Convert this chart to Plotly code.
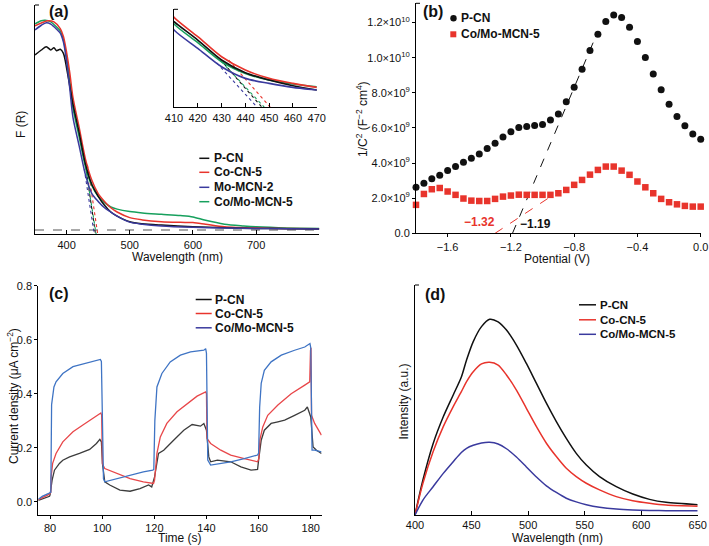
import plotly.graph_objects as go

W, H = 709, 546
FONT = "Liberation Sans, Arial, sans-serif"

# ---------------- (a) Kubelka-Munk F(R) ----------------
pcn_nm = [350, 360, 368, 375, 380, 384, 390, 395, 400, 405, 410, 420, 430, 440, 450, 460, 470, 480, 500, 520, 550, 600, 650, 700, 750, 800]
pcn_F = [0.778, 0.80, 0.815, 0.800, 0.81, 0.797, 0.803, 0.785, 0.72, 0.64, 0.56, 0.431, 0.291, 0.202, 0.150, 0.110, 0.080, 0.062, 0.037, 0.028, 0.022, 0.015, 0.010, 0.007, 0.006, 0.005]
co_nm = [350, 360, 370, 380, 390, 395, 400, 405, 410, 420, 430, 440, 450, 460, 470, 480, 500, 520, 550, 580, 600, 620, 650, 700, 750, 800]
co_F = [0.907, 0.92, 0.93, 0.925, 0.895, 0.86, 0.79, 0.70, 0.591, 0.455, 0.314, 0.221, 0.162, 0.127, 0.099, 0.080, 0.055, 0.045, 0.037, 0.034, 0.033, 0.026, 0.015, 0.009, 0.007, 0.006]
mo_nm = [350, 360, 368, 375, 385, 390, 395, 400, 405, 410, 420, 430, 440, 450, 460, 470, 480, 500, 520, 550, 600, 650, 700, 750, 800]
mo_F = [0.889, 0.91, 0.921, 0.915, 0.89, 0.875, 0.835, 0.75, 0.63, 0.502, 0.373, 0.244, 0.162, 0.127, 0.099, 0.080, 0.062, 0.035, 0.026, 0.018, 0.012, 0.009, 0.007, 0.006, 0.005]
como_nm = [350, 360, 366, 375, 385, 390, 395, 400, 405, 410, 420, 430, 440, 450, 460, 470, 480, 500, 520, 550, 580, 600, 620, 650, 680, 700, 750, 800]
como_F = [0.916, 0.93, 0.932, 0.925, 0.90, 0.885, 0.845, 0.77, 0.67, 0.544, 0.413, 0.279, 0.197, 0.150, 0.122, 0.103, 0.093, 0.082, 0.076, 0.070, 0.064, 0.058, 0.043, 0.026, 0.018, 0.014, 0.009, 0.007]
# tangent (band-edge) lines
tan_pcn_x, tan_pcn_y = [431, 447], [0.265, -0.041]
tan_co_x, tan_co_y = [433, 450.5], [0.29, -0.041]
tan_mo_x, tan_mo_y = [428, 445], [0.27, -0.041]
tan_como_x, tan_como_y = [430, 448], [0.279, -0.041]
base_x, base_y = [350, 800], [0, 0]

# ---------------- (b) Mott-Schottky ----------------
pot = [-1.80, -1.75, -1.70, -1.65, -1.60, -1.55, -1.50, -1.45, -1.40, -1.35, -1.30, -1.25, -1.20,
       -1.15, -1.10, -1.05, -1.00, -0.95, -0.90, -0.85, -0.80, -0.75, -0.70, -0.65, -0.60, -0.55,
       -0.50, -0.45, -0.40, -0.35, -0.30, -0.25, -0.20, -0.15, -0.10, -0.05, 0.00]
ms_pcn = [2.62e9, 2.85e9, 3.10e9, 3.31e9, 3.57e9, 3.80e9, 4.05e9, 4.28e9, 4.52e9, 4.83e9, 5.13e9, 5.49e9, 5.78e9,
          6.02e9, 6.08e9, 6.14e9, 6.19e9, 6.46e9, 6.80e9, 7.49e9, 8.32e9, 9.35e9, 10.41e9, 11.34e9, 12.07e9, 12.43e9,
          12.29e9, 11.74e9, 10.93e9, 10.01e9, 9.08e9, 8.17e9, 7.35e9, 6.65e9, 6.12e9, 5.66e9, 5.36e9]
ms_como = [1.62e9, 2.24e9, 2.51e9, 2.58e9, 2.38e9, 2.19e9, 1.98e9, 1.86e9, 1.84e9, 1.84e9, 1.96e9, 2.09e9, 2.15e9,
           2.20e9, 2.19e9, 2.19e9, 2.19e9, 2.19e9, 2.28e9, 2.47e9, 2.76e9, 3.04e9, 3.34e9, 3.61e9, 3.80e9, 3.80e9,
           3.57e9, 3.33e9, 2.95e9, 2.62e9, 2.28e9, 1.96e9, 1.77e9, 1.65e9, 1.56e9, 1.52e9, 1.52e9]
fit_pcn_x, fit_pcn_y = [-1.19, -0.65], [0, 11.5e9]
fit_como_x, fit_como_y = [-1.30, -0.93], [0, 2.2e9]
ms_yticks = [0, 2e9, 4e9, 6e9, 8e9, 1e10, 1.2e10]
ms_yticktext = ["0.0", "2.0×10<sup>9</sup>", "4.0×10<sup>9</sup>", "6.0×10<sup>9</sup>",
                "8.0×10<sup>9</sup>", "1.0×10<sup>10</sup>", "1.2×10<sup>10</sup>"]
ms_xticks = [-1.6, -1.2, -0.8, -0.4, 0.0]
ms_xticktext = ["−1.6", "−1.2", "−0.8", "−0.4", "0.0"]

# ---------------- (c) photocurrent ----------------
pc_t_pcn = [75.5, 79.8, 80.0, 80.8, 81.7, 83.6, 84.9, 87.5, 91.3, 95.2, 97.8, 99.1, 99.7, 100.1, 101, 102.9, 106.8,
            110.7, 114.5, 117.8, 119, 120.1, 121.6, 123.6, 127.4, 131.3, 134.5, 137.7, 139, 140, 140.5, 140.9, 141.6,
            144.2, 149.3, 153.2, 157.1, 159.6, 160, 161, 162.2, 164.8, 167.4, 170, 173.8, 177.7, 178.7, 180, 180.9,
            182.2, 184.1]
pc_pcn = [0.005, 0.02, 0.025, 0.08, 0.117, 0.142, 0.154, 0.166, 0.179, 0.194, 0.216, 0.231, 0.222, 0.142, 0.074, 0.062,
          0.043, 0.039, 0.049, 0.062, 0.055, 0.092, 0.179, 0.191, 0.228, 0.265, 0.286, 0.28, 0.29, 0.265, 0.21, 0.166,
          0.148, 0.154, 0.148, 0.129, 0.117, 0.12, 0.154, 0.228, 0.265, 0.29, 0.296, 0.302, 0.32, 0.339, 0.351, 0.314,
          0.203, 0.191, 0.179]
pc_t_co = [75.5, 79.8, 80.3, 80.4, 81, 82.3, 84.9, 88.8, 92.6, 96.5, 99.5, 99.8, 100.1, 101, 105.5, 110.7, 115.8, 119.7,
           120.1, 121, 122.3, 124.8, 128.7, 132.6, 136.4, 139.7, 140.0, 140.2, 141.6, 145.5, 149.3, 154.5, 159.6, 160.1,
           160.5, 161.6, 163.5, 167.4, 172.5, 177.7, 179.6, 179.9, 180.1, 180.3, 181.5, 184.1]
pc_co = [0.008, 0.028, 0.035, 0.09, 0.142, 0.179, 0.222, 0.259, 0.284, 0.311, 0.329, 0.32, 0.14, 0.123, 0.105, 0.086,
         0.074, 0.068, 0.08, 0.179, 0.24, 0.29, 0.333, 0.364, 0.391, 0.407, 0.40, 0.235, 0.216, 0.191, 0.173, 0.16,
         0.148, 0.16, 0.23, 0.277, 0.32, 0.358, 0.40, 0.432, 0.444, 0.56, 0.57, 0.32, 0.29, 0.247]
pc_t_como = [75.5, 77, 79.5, 80.3, 80.6, 81, 81.5, 82.3, 84.9, 88.8, 92.6, 96.5, 99.3, 99.7, 100.2, 100.5, 101, 105.5,
             110.7, 115.8, 119.4, 119.8, 120.2, 121, 122.9, 126.1, 130, 133.9, 139, 139.7, 140.0, 140.5, 141.6, 145.5,
             149.3, 154.5, 159.6, 160.0, 160.4, 161, 162.2, 164.8, 168.7, 173.8, 177.7, 179.7, 180.0, 180.5, 181.5,
             184.1]
pc_como = [0.009, 0.02, 0.031, 0.035, 0.36, 0.40, 0.425, 0.444, 0.475, 0.50, 0.509, 0.518, 0.527, 0.52, 0.20, 0.085,
           0.074, 0.086, 0.099, 0.111, 0.117, 0.12, 0.30, 0.425, 0.475, 0.518, 0.543, 0.555, 0.561, 0.567, 0.55, 0.154,
           0.136, 0.142, 0.148, 0.16, 0.173, 0.18, 0.35, 0.438, 0.487, 0.518, 0.543, 0.561, 0.573, 0.586, 0.57, 0.191,
           0.191, 0.185]

# ---------------- (d) PL spectra ----------------
pl_nm = [400, 407, 416, 425, 433.8, 441, 445.6, 451.5, 458.8, 466, 473.5, 480.9, 489.7, 498.5, 507.4, 516.2, 525,
         533.8, 542.6, 551.5, 563.2, 578, 592.6, 607.4, 622, 650]
pl_pcn = [0.0, 0.152, 0.31, 0.427, 0.522, 0.60, 0.674, 0.754, 0.819, 0.851, 0.84, 0.804, 0.739, 0.659, 0.572, 0.486,
          0.406, 0.333, 0.268, 0.217, 0.167, 0.123, 0.091, 0.068, 0.055, 0.045]
pl_co = [0.0, 0.138, 0.275, 0.384, 0.471, 0.536, 0.58, 0.623, 0.657, 0.664, 0.652, 0.609, 0.543, 0.464, 0.384, 0.312,
         0.254, 0.203, 0.167, 0.138, 0.109, 0.08, 0.062, 0.051, 0.043, 0.038]
pl_como = [0.0, 0.065, 0.123, 0.181, 0.232, 0.272, 0.29, 0.303, 0.313, 0.316, 0.309, 0.288, 0.252, 0.209, 0.165,
           0.127, 0.098, 0.073, 0.057, 0.045, 0.034, 0.026, 0.022, 0.020, 0.019, 0.018]

BLACK, RED, INDIGO, GREEN = "#111111", "#e8342c", "#3a3a9e", "#17a05d"
PC_BLACK, PC_RED, PC_BLUE = "#3c3c3c", "#e8474a", "#3f74c4"


def fx(p):
    return p / W


def fy(p):
    return 1 - p / H


fig = go.Figure()


def line(x, y, color, xa, ya, width=1.5, dash=None, shape="linear"):
    fig.add_trace(go.Scatter(x=x, y=y, mode="lines", xaxis=xa, yaxis=ya,
                             line=dict(color=color, width=width, dash=dash, shape=shape, smoothing=0.8),
                             showlegend=False, hoverinfo="skip"))


# (a) main + inset
line(base_x, base_y, "#555555", "x", "y", width=1.2, dash="dash")
for tx, ty, c in [(tan_mo_x, tan_mo_y, INDIGO), (tan_pcn_x, tan_pcn_y, BLACK),
                  (tan_como_x, tan_como_y, GREEN), (tan_co_x, tan_co_y, RED)]:
    line(tx, ty, c, "x", "y", width=1.1, dash="dot")
    line(tx, ty, c, "x2", "y2", width=1.1, dash="dot")
for xs, ys, c in [(como_nm, como_F, GREEN), (co_nm, co_F, RED), (pcn_nm, pcn_F, BLACK), (mo_nm, mo_F, INDIGO)]:
    line(xs, ys, c, "x", "y", width=1.5, shape="spline")
    line(xs, ys, c, "x2", "y2", width=1.6, shape="spline")

# (b)
line(fit_pcn_x, fit_pcn_y, BLACK, "x3", "y3", width=1, dash="dash")
line(fit_como_x, fit_como_y, RED, "x3", "y3", width=1, dash="dash")
fig.add_trace(go.Scatter(x=pot, y=ms_pcn, mode="markers", xaxis="x3", yaxis="y3", cliponaxis=False,
                         marker=dict(symbol="circle", size=7, color=BLACK), showlegend=False))
fig.add_trace(go.Scatter(x=pot, y=ms_como, mode="markers", xaxis="x3", yaxis="y3", cliponaxis=False,
                         marker=dict(symbol="square", size=6.5, color=RED), showlegend=False))

# (c)
line(pc_t_pcn, pc_pcn, PC_BLACK, "x4", "y4", width=1.3)
line(pc_t_co, pc_co, PC_RED, "x4", "y4", width=1.3)
line(pc_t_como, pc_como, PC_BLUE, "x4", "y4", width=1.3)

# (d)
line(pl_nm, pl_pcn, BLACK, "x5", "y5", width=1.5, shape="spline")
line(pl_nm, pl_co, RED, "x5", "y5", width=1.5, shape="spline")
line(pl_nm, pl_como, INDIGO, "x5", "y5", width=1.5, shape="spline")

ax_common = dict(showline=True, linecolor="black", linewidth=1, showgrid=False, zeroline=False, automargin=False,
                 tickfont=dict(size=11, color="#111", family=FONT), tickcolor="black", ticklen=4)

fig.update_layout(
    template="none",
    width=W, height=H, margin=dict(l=0, r=0, t=0, b=0, pad=0, autoexpand=False),
    paper_bgcolor="white", plot_bgcolor="rgba(0,0,0,0)",
    font=dict(family=FONT, color="#111", size=12), showlegend=False,
    xaxis=dict(ax_common, domain=[fx(35), fx(319.3)], range=[350, 800], anchor="y",
               tickvals=[400, 500, 600, 700], ticks="inside"),
    yaxis=dict(ax_common, domain=[fy(234.3), fy(5)], range=[-0.019, 1.0], anchor="x",
               showticklabels=False, ticks=""),
    xaxis2=dict(ax_common, domain=[fx(174), fx(316.7)], range=[410, 470], anchor="y2",
                tickvals=[410, 420, 430, 440, 450, 460, 470], ticks="inside"),
    yaxis2=dict(ax_common, domain=[fy(107.3), fy(9.3)], range=[-0.041, 0.647], anchor="x2",
                showticklabels=False, ticks=""),
    xaxis3=dict(ax_common, domain=[fx(416), fx(700.7)], range=[-1.8, 0.0], anchor="y3",
                tickvals=ms_xticks, ticktext=ms_xticktext, ticks="outside", ticklen=3),
    yaxis3=dict(ax_common, domain=[fy(233.3), fy(3.3)], range=[0, 1.31e10], anchor="x3",
                tickvals=ms_yticks, ticktext=ms_yticktext, ticks="outside", ticklen=3),
    xaxis4=dict(ax_common, domain=[fx(38.3), fx(321.7)], range=[75.5, 184.2], anchor="y4",
                tickvals=[80, 100, 120, 140, 160, 180], ticks="outside", ticklen=3),
    yaxis4=dict(ax_common, domain=[fy(515), fy(285.7)], range=[-0.049, 0.8], anchor="x4",
                tickvals=[0, 0.2, 0.4, 0.6, 0.8], tickformat=".1f", ticks="outside", ticklen=3),
    xaxis5=dict(ax_common, domain=[fx(415), fx(697.7)], range=[400, 650], anchor="y5",
                tickvals=[400, 450, 500, 550, 600, 650], ticks="inside"),
    yaxis5=dict(ax_common, domain=[fy(515), fy(285)], range=[0, 1], anchor="x5",
                showticklabels=False, ticks=""),
)

annotations = []
shapes = []


def text(x, y, s, size=12, bold=True, color="#111", anchor="left", angle=0):
    annotations.append(dict(x=fx(x), y=fy(y), xref="paper", yref="paper", text=f"<b>{s}</b>" if bold else s,
                            showarrow=False, xanchor=anchor, yanchor="middle", textangle=angle,
                            font=dict(size=size, color=color, family=FONT)))


def hline(x0, x1, y, color, width=1.5):
    shapes.append(dict(type="line", xref="paper", yref="paper", x0=fx(x0), x1=fx(x1), y0=fy(y), y1=fy(y),
                       line=dict(color=color, width=width)))


# axis titles
text(177, 257, "Wavelength (nm)", bold=False, anchor="center")
text(21, 125, "F (R)", bold=False, anchor="center", angle=-90)
text(557, 259, "Potential (V)", bold=False, anchor="center")
text(362, 119, "1/C<sup>2</sup> (F<sup>−2</sup> cm<sup>4</sup>)", bold=False, anchor="center", angle=-90)
text(180, 537.5, "Time (s)", bold=False, anchor="center")
text(13, 396, "Current density (μA cm<sup>−2</sup>)", bold=False, anchor="center", angle=-90)
text(557, 537.5, "Wavelength (nm)", bold=False, anchor="center")
text(403.5, 402, "Intensity (a.u.)", bold=False, anchor="center", angle=-90)

# panel labels
text(59, 11, "(a)", size=16, anchor="center")
text(432.5, 11, "(b)", size=16, anchor="center")
text(59, 293, "(c)", size=16, anchor="center")
text(434.5, 294, "(d)", size=16, anchor="center")

# legend (a)
for y, lab, c in [(158.3, "P-CN", BLACK), (172.3, "Co-CN-5", RED), (187.3, "Mo-MCN-2", INDIGO),
                  (201.7, "Co/Mo-MCN-5", GREEN)]:
    hline(199.3, 209.3, y, c)
    text(211.5, y, lab)

# legend (b)
shapes.append(dict(type="circle", xref="paper", yref="paper", x0=fx(450.3), x1=fx(456.7), y0=fy(21.5),
                   y1=fy(15.1), fillcolor=BLACK, line=dict(width=0)))
shapes.append(dict(type="rect", xref="paper", yref="paper", x0=fx(450.3), x1=fx(456.3), y0=fy(37.3),
                   y1=fy(31.3), fillcolor=RED, line=dict(width=0)))
text(459, 18.3, "P-CN")
text(459, 34.3, "Co/Mo-MCN-5")
text(480, 221.7, "−1.32", color=RED, anchor="center")
text(535, 224, "−1.19", color=BLACK, anchor="center")

# legend (c)
for y, lab, c in [(299.5, "P-CN", BLACK), (313.5, "Co-CN-5", RED), (327.8, "Co/Mo-MCN-5", INDIGO)]:
    hline(195.7, 211.7, y, c)
    text(213.5, y, lab)

# legend (d)
for y, lab, c in [(304.8, "P-CN", BLACK), (319.8, "Co-CN-5", RED), (334.3, "Co/Mo-MCN-5", INDIGO)]:
    hline(579, 596, y, c)
    text(597.5, y, lab, size=11.5)

# small top-end ticks on the y axes
for x, y in [(35, 5), (174, 9.3), (416, 3.3), (415, 285)]:
    hline(x, x + 4, y, "black", width=1)

fig.update_layout(annotations=annotations, shapes=shapes)
fig.write_html("out.html", config={"displayModeBar": False},
               post_script="document.body.style.margin='0px';document.body.style.padding='0px';")
